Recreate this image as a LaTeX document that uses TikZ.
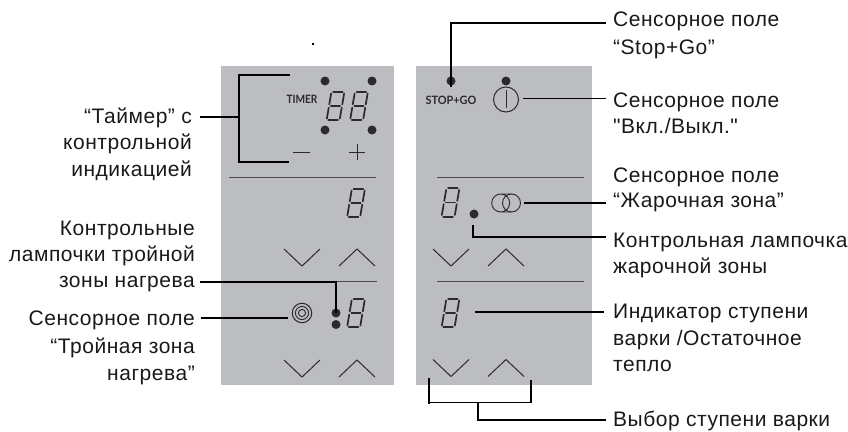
\documentclass[tikz,border=0pt]{standalone}
\usepackage{fontspec}
\usepackage{graphicx}
\newfontfamily\labelfont{Liberation Sans}[LetterSpace=2.5]
\newfontfamily\panelfont{Lato}
\definecolor{panelgrey}{HTML}{BCBDC0}
\definecolor{ink}{HTML}{2B2B2D}
\definecolor{rulegrey}{HTML}{4A4A4C}
\tikzset{
  panel/.style={fill=panelgrey,draw=none},
  lead/.style={draw=black,line width=1.8pt,line cap=butt,line join=miter},
  sep/.style={draw=rulegrey,line width=0.9pt},
  chev/.style={draw=ink,line width=1pt,line join=miter},
  lamp/.style={circle,fill=ink,draw=none,minimum size=9pt,inner sep=0pt},
  rlabel/.style={font=\labelfont\fontsize{21}{26.5}\selectfont,text=black!90,align=left,anchor=base west,inner sep=0pt},
  llabel/.style={font=\labelfont\fontsize{21}{26.5}\selectfont,text=black!90,align=right,anchor=base east,inner sep=0pt},
  seg/.style={draw=ink,line width=1.7pt,line cap=round},
  pics/digit/.style={code={
    \begin{scope}[xslant=0.17]
      \draw[seg] (-4.8,-14.3) -- (4.8,-14.3);
      \draw[seg] (-6.5,-12.5) -- (-6.5,-1.6);
      \draw[seg] (6.5,-12.5) -- (6.5,-1.6);
      \draw[seg] (-4.6,0) -- (4.6,0);
      \draw[seg] (-6.5,1.6) -- (-6.5,12.5);
      \draw[seg] (6.5,1.6) -- (6.5,12.5);
      \draw[seg] (-4.8,14.3) -- (4.8,14.3);
    \end{scope}
  }},
  pics/vee/.style={code={\draw[chev] (-18,0) -- (0,17) -- (18,0);}},
  pics/hat/.style={code={\draw[chev] (-18,17) -- (0,0) -- (18,17);}}
}
\begin{document}
\begin{tikzpicture}[x=1pt,y=-1pt]
\useasboundingbox (0,0) rectangle (848,431);
% panels
\fill[panel] (221,66) rectangle (394,385);
\fill[panel] (416,66) rectangle (592,385);
% separators
\draw[sep] (229,177) -- (376,177);
\draw[sep] (336,281.5) -- (377,281.5);
\draw[sep] (437,177) -- (584,177);
\draw[sep] (437,281.5) -- (584,281.5);
% left panel symbols
\node[lamp] (t1) at (325,81) {};
\node[lamp] (t2) at (372,81) {};
\node[lamp] (t3) at (325,130) {};
\node[lamp] (t4) at (372,130) {};
\node[font=\panelfont\bfseries\fontsize{11.5}{11.5}\selectfont,text=ink,inner sep=0pt] (timer) at (302,99.5) {\scalebox{.88}[1]{TIMER}};
\pic at (335.5,106) {digit};
\pic at (359,106) {digit};
\draw[chev] (293,152) -- (310,152);
\draw[chev] (349,152) -- (365,152) (357,144) -- (357,160);
\pic at (356,203) {digit};
\pic at (356,313) {digit};
\pic at (302,249) {vee};
\pic at (357,249) {hat};
\pic at (302,360) {vee};
\pic at (357,360) {hat};
\node[lamp] (l1) at (336,313) {};
\node[lamp] (l2) at (336,324.5) {};
\node[circle,draw=ink,line width=1pt,minimum size=19.5pt,inner sep=0pt] (triple) at (302,313) {};
\draw[ink,line width=0.9pt] (triple.center) circle (6.6) (triple.center) circle (3.6);
% right panel symbols
\node[lamp] (sg) at (451,81) {};
\node[lamp] (pw) at (506,81) {};
\node[font=\panelfont\bfseries\fontsize{11.5}{11.5}\selectfont,text=ink,inner sep=0pt] (stopgo) at (451,100) {\scalebox{.95}[1]{STOP+GO}};
\node[circle,draw=ink,line width=1pt,minimum size=25pt,inner sep=0pt] (power) at (506,99.5) {};
\draw[ink,line width=1pt] (506,90) -- (506,108);
\draw[ink,line width=0.9pt] (500.7,203) circle (9) (500.7,194) -- (511.5,194) (500.7,212) -- (511.5,212);
\node[circle,draw=ink,line width=0.9pt,minimum size=18pt,inner sep=0pt] (fry) at (511.5,203) {};
\node[lamp] (fl) at (474,214) {};
\pic at (450.5,202.5) {digit};
\pic at (450.5,313) {digit};
\pic at (451,249) {vee};
\pic at (506,249) {hat};
\pic at (451,359.5) {vee};
\pic at (506,359.5) {hat};
% stray mark
\node[fill=black,minimum size=2pt,inner sep=0pt] (speck) at (313,44) {};
% labels
\node[rlabel] (a) at (613,27) {Сенсорное поле};
\node[rlabel] (a2) at (613,54.5) {“Stop+Go”};
\node[rlabel] (b) at (613,107) {Сенсорное поле};
\node[rlabel] (b2) at (613,133.5) {"Вкл./Выкл."};
\node[rlabel] (c) at (613,182) {Сенсорное поле};
\node[rlabel] (c2) at (613,207.5) {“Жарочная зона”};
\node[rlabel] (d) at (613,247) {Контрольная лампочка};
\node[rlabel] (d2) at (613,273) {жарочной зоны};
\node[rlabel] (e) at (613,318) {Индикатор ступени};
\node[rlabel] (e2) at (613,345) {варки /Остаточное};
\node[rlabel] (e3) at (613,371) {тепло};
\node[rlabel] (f) at (613,426) {Выбор ступени варки};
\node[llabel] (g) at (192,123) {“Таймер” с};
\node[llabel] (g2) at (192,149.5) {контрольной};
\node[llabel] (g3) at (192,176) {индикацией};
\node[llabel] (h) at (195,235) {Контрольные};
\node[llabel] (h2) at (195,261) {лампочки тройной};
\node[llabel] (h3) at (195,287) {зоны нагрева};
\node[llabel] (i) at (195,325) {Сенсорное поле};
\node[llabel] (i2) at (195,353) {“Тройная зона};
\node[llabel] (i3) at (195,380) {нагрева”};
% connector ends
\coordinate (aE) at (606,23);
\coordinate (bE) at (606,98.5);
\coordinate (bS) at (523,98.5);
\coordinate (cE) at (606,203);
\coordinate (dE) at (606,237);
\coordinate (eE) at (604,312);
\coordinate (fE) at (606,420);
\coordinate (gE) at (200,117);
\coordinate (hE) at (200,282);
\coordinate (iE) at (201,318);
% connectors
\draw[lead] (aE) -| (sg.center) -- ++(0,6);
\draw[lead] (bE) -- (bS);
\draw[lead] (cE) -- (524,203);
\draw[lead] (dE) -| (473,225);
\draw[lead] (eE) -- (475,312);
\draw[lead] (429,378) -- (429,404);
\draw[lead] (428.1,402.5) -- (531.5,402.5);
\draw[lead] (531,380) -- (531,403.4);
\draw[lead] (fE) -| (478,402.5);
\draw[lead] (gE) -- (239,117);
\draw[lead] (290,75) -| (239,162) -- (289,162);
\draw[lead] (hE) -| (l1.center);
\draw[lead] (iE) -- (288,318);
\end{tikzpicture}
\end{document}
